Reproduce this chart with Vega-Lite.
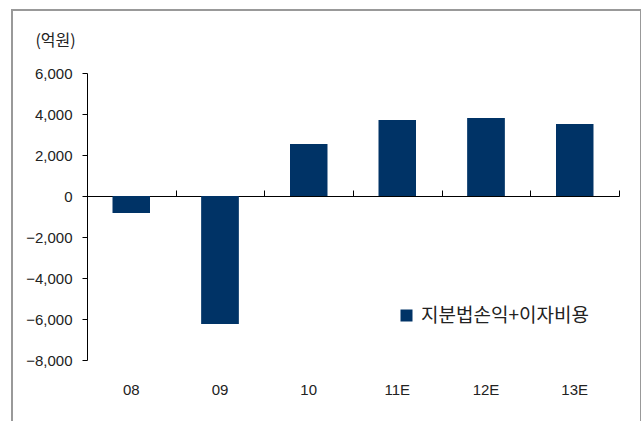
{
  "$schema": "https://vega.github.io/schema/vega-lite/v6.json",
  "autosize": {"type": "none"},
  "padding": {"left": 12, "top": 10, "right": 0, "bottom": 0},
  "width": 629,
  "height": 420,
  "background": "white",
  "config": {
    "view": {"stroke": "#999999", "strokeWidth": 2},
    "font": "Liberation Sans"
  },
  "data": {
    "values": [
      {"year": "08", "value": -830, "series": "지분법손익+이자비용"},
      {"year": "09", "value": -6244, "series": "지분법손익+이자비용"},
      {"year": "10", "value": 2537, "series": "지분법손익+이자비용"},
      {"year": "11E", "value": 3707, "series": "지분법손익+이자비용"},
      {"year": "12E", "value": 3805, "series": "지분법손익+이자비용"},
      {"year": "13E", "value": 3512, "series": "지분법손익+이자비용"}
    ]
  },
  "resolve": {"axis": {"x": "independent", "y": "independent"}},
  "layer": [
    {
      "mark": {"type": "bar", "width": {"band": 0.42}, "color": "#003366"},
      "encoding": {
        "x": {
          "field": "year", "type": "nominal", "sort": null,
          "scale": {"range": [75, 607], "paddingInner": 0, "paddingOuter": 0},
          "axis": {
            "orient": "top", "offset": -186, "labels": false, "title": null,
            "tickBand": "extent", "tickSize": 6, "tickColor": "#000000", "tickWidth": 1,
            "domainColor": "#000000", "domainWidth": 1
          }
        },
        "y": {
          "field": "value", "type": "quantitative",
          "scale": {"domain": [-8000, 6000], "range": [350, 63], "nice": false, "zero": false},
          "axis": null
        }
      }
    },
    {
      "mark": {"type": "bar", "width": {"band": 0.42}},
      "encoding": {
        "x": {
          "field": "year", "type": "nominal", "sort": null,
          "axis": {
            "orient": "bottom", "offset": -70, "title": null, "domain": false, "ticks": false,
            "labelAngle": 0, "labelPadding": 22, "labelFont": "Liberation Sans",
            "labelFontSize": 15, "labelColor": "#222222"
          }
        },
        "y": {
          "field": "value", "type": "quantitative",
          "axis": {
            "orient": "left", "offset": -75, "values": [-8000, -6000, -4000, -2000, 0, 2000, 4000, 6000],
            "format": ",d", "grid": false, "domainColor": "#000000", "domainWidth": 1,
            "tickColor": "#000000", "tickSize": 5, "labelPadding": 10,
            "labelFont": "Liberation Sans", "labelFontSize": 15, "labelColor": "#222222",
            "title": "(억원)", "titleAngle": 0, "titleX": -32, "titleY": 30,
            "titleAlign": "center", "titleBaseline": "middle",
            "titleFont": "Noto Sans CJK KR", "titleFontSize": 16, "titleFontWeight": "normal", "titleColor": "#222222"
          }
        },
        "color": {
          "field": "series", "type": "nominal",
          "scale": {"range": ["#003366"]},
          "legend": {
            "orient": "none", "legendX": 385, "legendY": 296, "title": null,
            "symbolType": "square", "symbolSize": 144, "symbolStrokeWidth": 0, "symbolOpacity": 1,
            "labelFont": "Noto Sans CJK KR", "labelFontSize": 19, "labelColor": "#222222",
            "labelOffset": 5, "labelLimit": 400, "padding": 0
          }
        }
      }
    }
  ]
}
